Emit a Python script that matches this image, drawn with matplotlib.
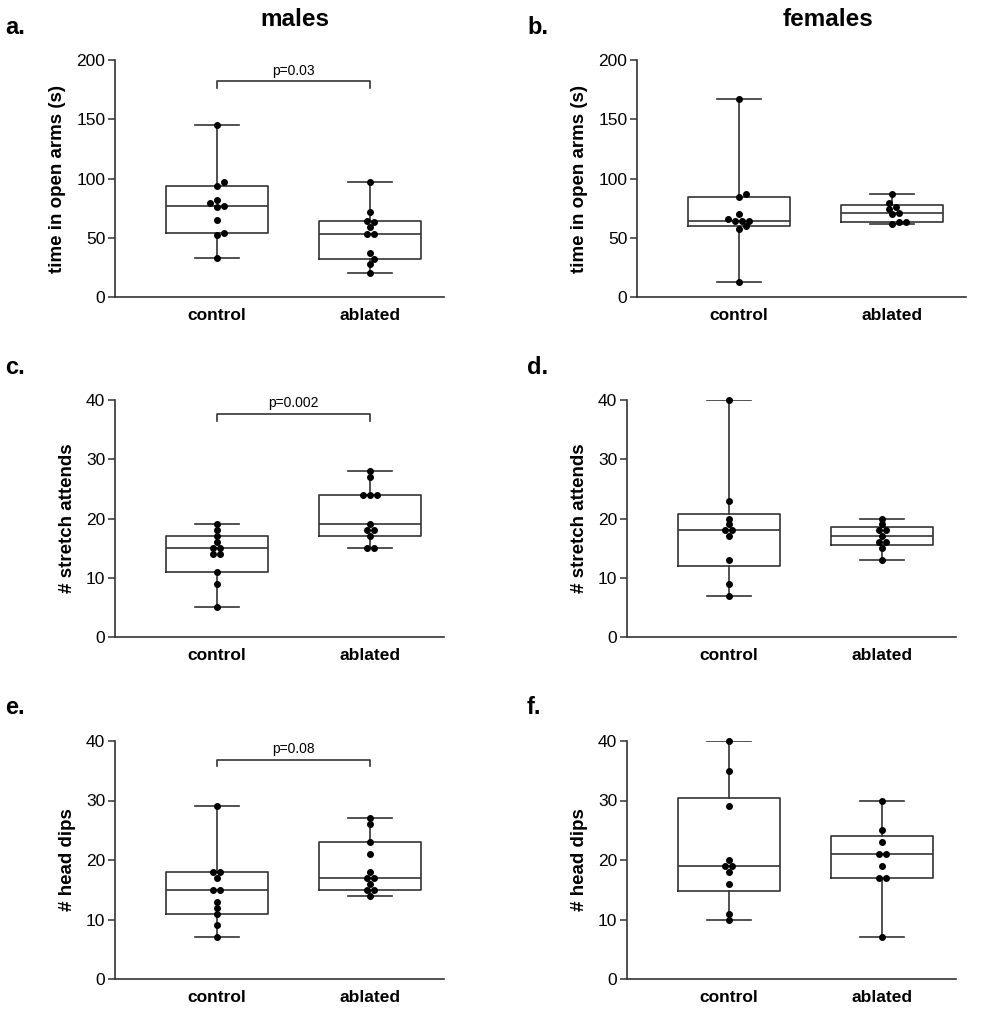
import numpy as np
import matplotlib.pyplot as plt

plt.rcParams['font.family'] = ['Liberation Sans', 'DejaVu Sans']

groups = ['control', 'ablated']

# values (one list per box)
males_open_control = [145, 97, 94, 82, 79, 77, 76, 65, 54, 52, 33]
males_open_ablated = [97, 72, 64, 63, 59, 53, 53, 37, 32, 28, 20]
females_open_control = [167, 87, 84, 70, 66, 64, 64, 64, 60, 57, 13]
females_open_ablated = [87, 79, 76, 74, 71, 70, 63, 63, 62]
males_stretch_control = [19, 18, 17, 16, 15, 15, 14, 14, 11, 9, 5]
males_stretch_ablated = [28, 27, 24, 24, 24, 19, 18, 18, 17, 15, 15]
females_stretch_control = [40, 23, 20, 19, 18, 18, 17, 13, 9, 7]
females_stretch_ablated = [20, 19, 18, 18, 17, 16, 16, 15, 13]
males_dips_control = [29, 18, 18, 17, 15, 15, 13, 12, 11, 9, 7]
males_dips_ablated = [27, 26, 23, 21, 18, 17, 17, 16, 15, 15, 14]
females_dips_control = [40, 35, 29, 20, 19, 19, 18, 16, 11, 10]
females_dips_ablated = [30, 25, 23, 21, 21, 19, 17, 17, 7]

panel_letters = ['a.', 'b.', 'c.', 'd.', 'e.', 'f.']
ylabels = ['time in open arms (s)', 'time in open arms (s)',
           '# stretch attends', '# stretch attends',
           '# head dips', '# head dips']
ymax = [200, 200, 40, 40, 40, 40]
ystep = [50, 50, 10, 10, 10, 10]
pvals = ['p=0.03', None, 'p=0.002', None, 'p=0.08', None]
p_top = [182, None, 37.7, None, 36.8, None]
p_foot = [176, None, 36.4, None, 35.8, None]

data = [
    (males_open_control, males_open_ablated),
    (females_open_control, females_open_ablated),
    (males_stretch_control, males_stretch_ablated),
    (females_stretch_control, females_stretch_ablated),
    (males_dips_control, males_dips_ablated),
    (females_dips_control, females_dips_ablated),
]

W, H = 1000, 1009
fig = plt.figure(figsize=(W / 100, H / 100), dpi=100)

# axes boxes in pixels: left, top, right, bottom
boxes = [
    (115, 60, 444, 297), (637, 60, 966, 297),
    (115, 400, 444, 637), (627, 400, 956, 637),
    (115, 741, 444, 979), (627, 741, 956, 979),
]

lc = '#333333'
xlim = (0.336, 2.48)


def box_stats(vals):
    v = np.array(vals, dtype=float)
    q1, med, q3 = np.percentile(v, [25, 50, 75], method='weibull')
    return dict(med=med, q1=q1, q3=q3, whislo=v.min(), whishi=v.max(), fliers=[])


def swarm(vals, px_y, px_x, d=7.0, mind=5.0):
    # simple beeswarm in pixel space, returns offsets in data units
    vals = np.asarray(vals, dtype=float)
    offs = np.zeros(len(vals))
    placed = []
    for v in np.unique(vals):
        idx = np.where(vals == v)[0]
        k = len(idx)
        base = (np.arange(k) - (k - 1) / 2) * d
        for shift in [0, d / 2, -d / 2, d, -d, 1.5 * d, -1.5 * d, 2 * d, -2 * d]:
            cand = base + shift
            ok = True
            for cx in cand:
                for px, pv in placed:
                    if np.hypot(cx - px, (v - pv) * px_y) < mind:
                        ok = False
            if ok:
                break
        for i, cx in zip(idx, cand):
            offs[i] = cx
            placed.append((cx, v))
    return offs / px_x


for i in range(6):
    l, t, r, b = boxes[i]
    ax = fig.add_axes([l / W, 1 - b / H, (r - l) / W, (b - t) / H])
    ctrl, abl = data[i]

    ax.bxp([box_stats(ctrl), box_stats(abl)], positions=[1, 2], widths=0.664,
           capwidths=0.286, showfliers=False,
           boxprops=dict(color=lc, linewidth=1.2),
           whiskerprops=dict(color=lc, linewidth=1.2),
           capprops=dict(color=lc, linewidth=1.2),
           medianprops=dict(color=lc, linewidth=1.2))

    px_y = (b - t) / ymax[i]
    px_x = (r - l) / (xlim[1] - xlim[0])
    for pos, vals in zip([1, 2], [ctrl, abl]):
        xo = swarm(vals, px_y, px_x)
        ax.plot(pos + xo, vals, 'o', color='black', markersize=4, zorder=5,
                clip_on=False)

    ax.set_xlim(*xlim)
    ax.set_ylim(0, ymax[i])
    ax.set_yticks(np.arange(0, ymax[i] + 1, ystep[i]))
    ax.set_xticks([1, 2])
    ax.set_xticklabels(groups, fontsize=12.5, fontweight='bold')
    ax.tick_params(axis='x', length=0, pad=8)
    ax.tick_params(axis='y', length=5, width=1.1, color=lc, labelsize=12.5, pad=2)
    ax.set_ylabel(ylabels[i], fontsize=13.5, fontweight='bold', labelpad=7)
    for s in ['top', 'right']:
        ax.spines[s].set_visible(False)
    for s in ['left', 'bottom']:
        ax.spines[s].set_color(lc)
        ax.spines[s].set_linewidth(1.2)

    if pvals[i]:
        ax.plot([1, 1, 2, 2], [p_foot[i], p_top[i], p_top[i], p_foot[i]],
                color=lc, linewidth=1.2, clip_on=False)
        ax.text(1.5, p_top[i] + ymax[i] * 0.015, pvals[i], ha='center', va='bottom',
                fontsize=10)

    lx = 5 if l < 300 else 527
    fig.text(lx / W, 1 - (t - 33) / H, panel_letters[i], fontsize=17,
             fontweight='bold', ha='left', va='center')

fig.text(295 / W, 1 - 19 / H, 'males', fontsize=17.5, fontweight='bold',
         ha='center', va='center')
fig.text(828 / W, 1 - 19 / H, 'females', fontsize=17.5, fontweight='bold',
         ha='center', va='center')

plt.savefig('out.png', dpi=100)
